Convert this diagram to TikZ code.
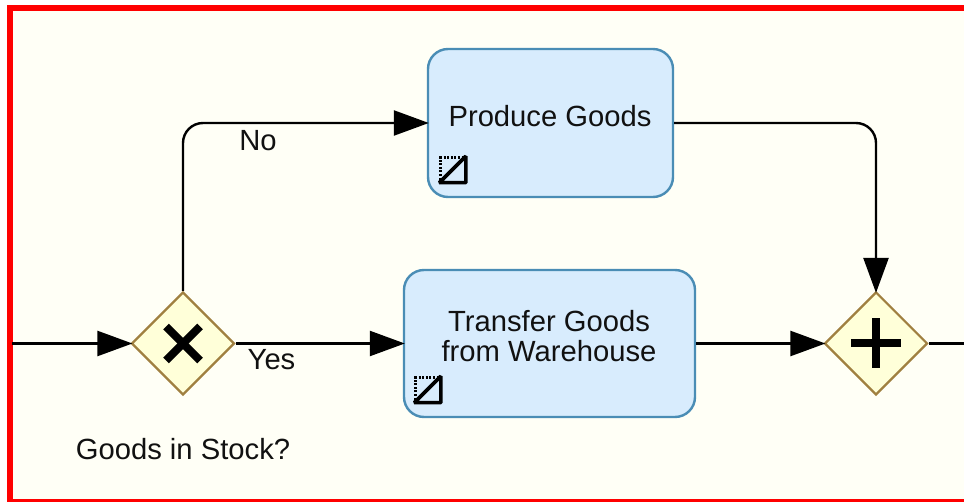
\documentclass[tikz,border=0pt]{standalone}
\usepackage{fontspec}
\setmainfont{Liberation Sans}
\usetikzlibrary{arrows.meta,shapes.geometric}
\definecolor{pagebg}{HTML}{FFFFF6}
\definecolor{taskfill}{HTML}{D8ECFD}
\definecolor{taskline}{HTML}{4A8DB5}
\definecolor{gatefill}{HTML}{FFFFD9}
\definecolor{gateline}{HTML}{A08040}
\definecolor{labelcol}{HTML}{111111}
\tikzset{
  task/.style={draw=taskline, fill=taskfill, line width=2.4pt, rounded corners=20pt,
    align=center, inner sep=0pt, text=labelcol, font=\fontsize{29.2}{29.5}\selectfont},
  gate/.style={diamond, draw=gateline, fill=gatefill, line width=2.2pt, aspect=1,
    minimum width=103pt, minimum height=103pt, inner sep=0pt},
  flow/.style={draw, line width=2.4pt, shorten >=-2pt, -{Triangle[length=35pt,width=25pt]}},
  tag/.style={text=labelcol, inner sep=0pt, font=\fontsize{29.2}{29.5}\selectfont},
  taskmark/.pic={
    \draw[line width=3.5pt, dash pattern=on 2pt off 1.6pt] (-13,13) -- (-13,-12.5) -- (13,-12.5);
    \draw[line width=3.6pt, line join=bevel] (-14,12.5) -- (12.5,-14) -- (12.5,12.5) -- cycle;
  }
}
\begin{document}
\begin{tikzpicture}[x=1pt,y=-1pt]
  \clip (0,0) rectangle (964,502);
  \path[draw=red, fill=pagebg, line width=6pt] (10,8) rectangle (980,502);

  \node[task, minimum width=245pt, minimum height=148pt] (produce) at (550.5,123) {};
  \node[tag] (producetext) at (550,116) {Produce Goods};
  \node[task, minimum width=291pt, minimum height=147pt] (transfer) at (549.5,343.5) {};
  \node[tag, align=center] (transfertext) at (549,336) {Transfer Goods\\from Warehouse};
  \node[gate] (xor) at (183,343.5) {};
  \node[gate] (and) at (876,343.5) {};

  \coordinate (start) at (12,343.5);
  \coordinate (stop) at (964,343.5);

  % gateway symbols
  \draw[line width=8pt] ([shift={(-17,-17)}]xor.center) -- ([shift={(17,17)}]xor.center);
  \draw[line width=8pt] ([shift={(-17,17)}]xor.center) -- ([shift={(17,-17)}]xor.center);
  \draw[line width=8pt] ([shift={(-25,0)}]and.center) -- ([shift={(25,0)}]and.center);
  \draw[line width=8pt] ([shift={(0,-25)}]and.center) -- ([shift={(0,25)}]and.center);

  \foreach \t/\dx in {produce/26.5, transfer/25.5}
  {
    \pic at ([shift={(\dx,-28)}]\t.south west) {taskmark};
  }

  \path[flow] (start) -- (xor.west);
  \path[flow, rounded corners=20pt] (xor.north) |- (produce.west);
  \path[flow] (xor.east) -- (transfer.west);
  \path[flow, rounded corners=20pt] (produce.east) -| (and.north);
  \path[flow] (transfer.east) -- (and.west);
  \path[draw, line width=2.4pt] (and.east) -- (stop);

  \node[tag] (nolabel) at (258,141) {No};
  \node[tag] (yeslabel) at (271.5,360) {Yes};
  \node[tag] (stocklabel) at (183,449) {Goods in Stock?};
\end{tikzpicture}
\end{document}
